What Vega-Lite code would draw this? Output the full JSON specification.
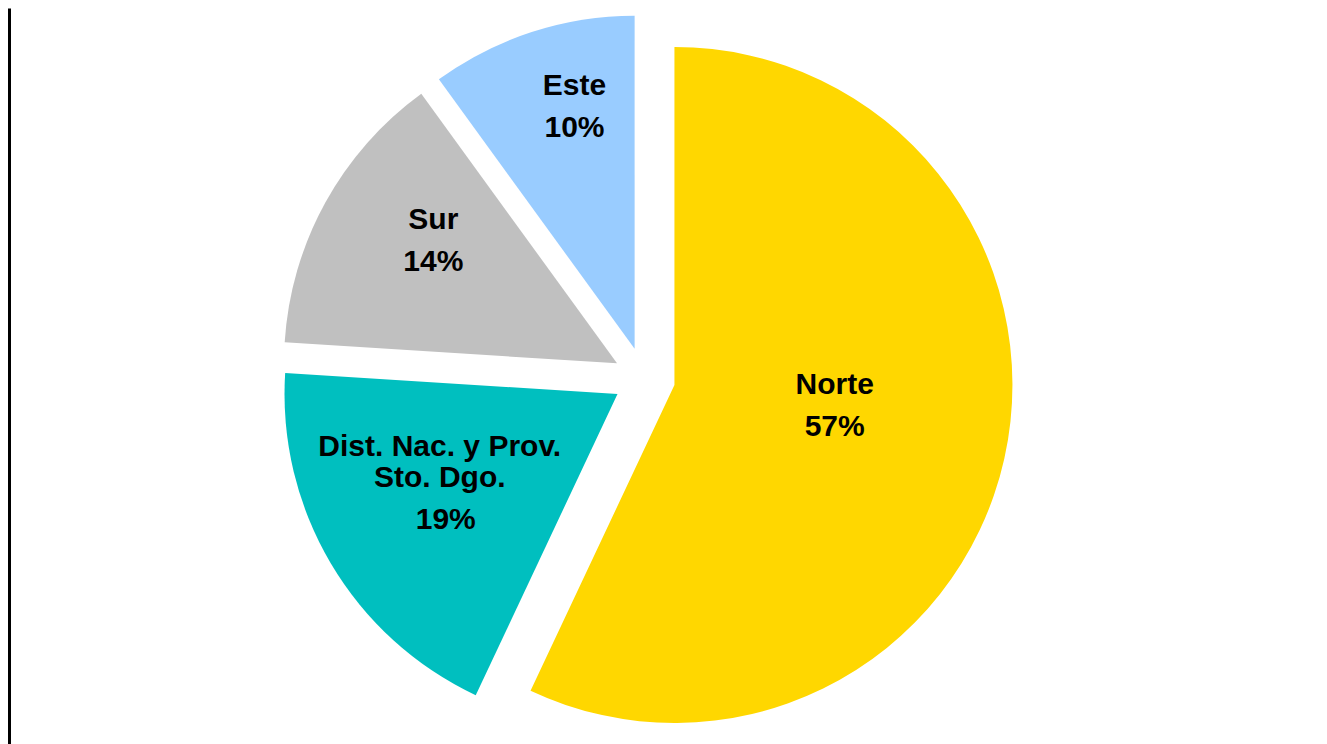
{
  "$schema": "https://vega.github.io/schema/vega-lite/v6.json",
  "width": 1317,
  "height": 736,
  "padding": {"left": 9, "top": 8, "right": 0, "bottom": 0},
  "background": "white",
  "config": {"view": {"stroke": null}},
  "data": {
    "values": [
      {"region": "Norte", "name": "Norte", "share": 0.57, "order": 1},
      {"region": "Dist", "name": "Dist. Nac. y Prov.\nSto. Dgo.", "share": 0.19, "order": 2},
      {"region": "Sur", "name": "Sur", "share": 0.14, "order": 3},
      {"region": "Este", "name": "Este", "share": 0.10, "order": 4}
    ]
  },
  "transform": [
    {"stack": "share", "groupby": [], "sort": [{"field": "order", "order": "ascending"}], "as": ["s0", "s1"]},
    {"calculate": "(datum.s0 + datum.s1) / 2", "as": "mid"},
    {"calculate": "sin(datum.mid * 2 * PI)", "as": "ax"},
    {"calculate": "cos(datum.mid * 2 * PI)", "as": "ay"}
  ],
  "encoding": {
    "x": {"field": "ax", "type": "quantitative", "stack": null, "scale": {"domain": [-20.49, 21.994], "nice": false, "zero": false}, "axis": null},
    "y": {"field": "ay", "type": "quantitative", "stack": null, "scale": {"domain": [-11.80, 11.942], "nice": false, "zero": false},
      "axis": {"domain": true, "domainColor": "#000000", "domainWidth": 3, "ticks": false, "labels": false, "grid": false, "title": null}}
  },
  "layer": [
    {
      "transform": [{"filter": "datum.region === 'Norte'"}],
      "mark": {"type": "arc", "outerRadius": 338},
      "encoding": {
        "theta": {"field": "s0", "type": "quantitative", "stack": null, "scale": {"domain": [0, 1], "range": [0, 6.283185307179586]}},
        "theta2": {"field": "s1"},
        "color": {"field": "region", "type": "nominal", "legend": null,
          "scale": {"domain": ["Norte", "Dist", "Sur", "Este"], "range": ["#FFD700", "#00BFBF", "#C0C0C0", "#99CCFF"]}}
      }
    },
    {
      "transform": [{"filter": "datum.region !== 'Norte'"}],
      "mark": {"type": "arc", "outerRadius": 333},
      "encoding": {
        "theta": {"field": "s0", "type": "quantitative", "stack": null},
        "theta2": {"field": "s1"},
        "color": {"field": "region", "type": "nominal", "legend": null}
      }
    },
    {
      "transform": [{"filter": "datum.region === 'Norte'"}],
      "encoding": {"theta": {"field": "mid", "type": "quantitative", "stack": null}},
      "layer": [
        {"mark": {"type": "text", "radius": 163, "thetaOffset": -0.035, "baseline": "bottom", "dy": -15, "align": "center", "font": "Liberation Sans", "fontWeight": "bold", "fontSize": 30, "lineBreak": "\n", "lineHeight": 31, "color": "#000000"},
         "encoding": {"text": {"field": "name"}}},
        {"mark": {"type": "text", "radius": 163, "thetaOffset": -0.035, "baseline": "alphabetic", "dy": 21, "align": "center", "font": "Liberation Sans", "fontWeight": "bold", "fontSize": 30, "color": "#000000"},
         "encoding": {"text": {"field": "share", "type": "quantitative", "format": ".0%"}}}
      ]
    },
    {
      "transform": [{"filter": "datum.region === 'Dist'"}],
      "encoding": {"theta": {"field": "mid", "type": "quantitative", "stack": null}},
      "layer": [
        {"mark": {"type": "text", "radius": 211, "thetaOffset": -0.035, "baseline": "bottom", "dy": -46, "align": "center", "font": "Liberation Sans", "fontWeight": "bold", "fontSize": 30, "lineBreak": "\n", "lineHeight": 31, "color": "#000000"},
         "encoding": {"text": {"field": "name"}}},
        {"mark": {"type": "text", "radius": 211, "thetaOffset": -0.035, "baseline": "alphabetic", "dy": 21, "dx": 6, "align": "center", "font": "Liberation Sans", "fontWeight": "bold", "fontSize": 30, "color": "#000000"},
         "encoding": {"text": {"field": "share", "type": "quantitative", "format": ".0%"}}}
      ]
    },
    {
      "transform": [{"filter": "datum.region === 'Sur'"}],
      "encoding": {"theta": {"field": "mid", "type": "quantitative", "stack": null}},
      "layer": [
        {"mark": {"type": "text", "radius": 216, "thetaOffset": 0.051, "baseline": "bottom", "dy": -15, "align": "center", "font": "Liberation Sans", "fontWeight": "bold", "fontSize": 30, "lineBreak": "\n", "lineHeight": 31, "color": "#000000"},
         "encoding": {"text": {"field": "name"}}},
        {"mark": {"type": "text", "radius": 216, "thetaOffset": 0.051, "baseline": "alphabetic", "dy": 21, "align": "center", "font": "Liberation Sans", "fontWeight": "bold", "fontSize": 30, "color": "#000000"},
         "encoding": {"text": {"field": "share", "type": "quantitative", "format": ".0%"}}}
      ]
    },
    {
      "transform": [{"filter": "datum.region === 'Este'"}],
      "encoding": {"theta": {"field": "mid", "type": "quantitative", "stack": null}},
      "layer": [
        {"mark": {"type": "text", "radius": 240, "thetaOffset": 0.061, "baseline": "bottom", "dy": -15, "align": "center", "font": "Liberation Sans", "fontWeight": "bold", "fontSize": 30, "lineBreak": "\n", "lineHeight": 31, "color": "#000000"},
         "encoding": {"text": {"field": "name"}}},
        {"mark": {"type": "text", "radius": 240, "thetaOffset": 0.061, "baseline": "alphabetic", "dy": 21, "align": "center", "font": "Liberation Sans", "fontWeight": "bold", "fontSize": 30, "color": "#000000"},
         "encoding": {"text": {"field": "share", "type": "quantitative", "format": ".0%"}}}
      ]
    }
  ]
}
